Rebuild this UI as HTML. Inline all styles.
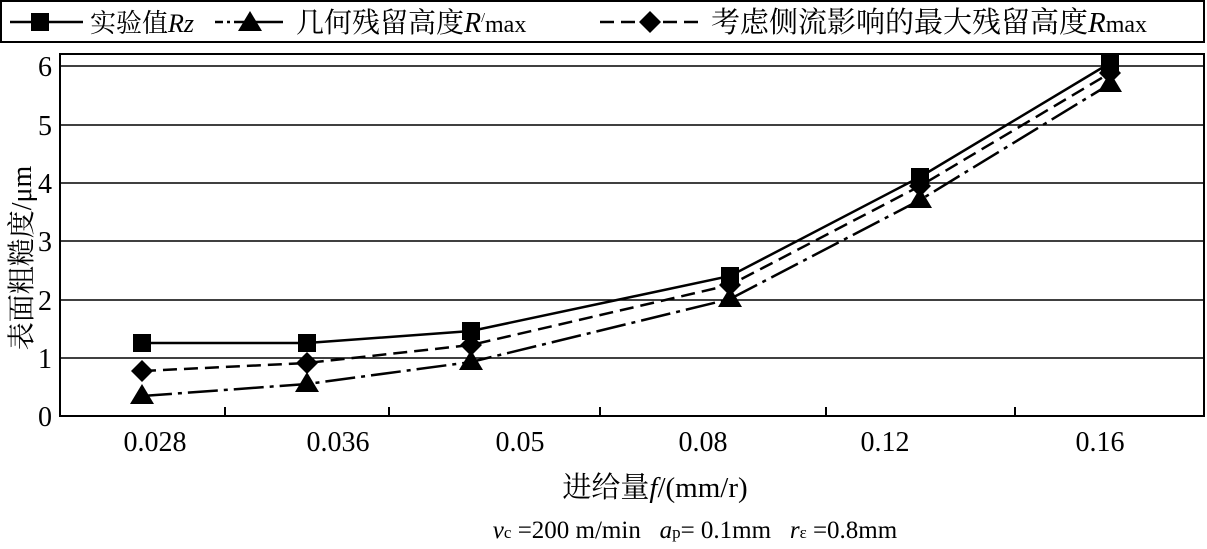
<!DOCTYPE html>
<html><head><meta charset="utf-8"><style>
body{margin:0;background:#fff;}
svg text{font-family:"Liberation Serif","Noto Serif CJK SC",serif;fill:#000;}
</style></head><body>
<svg width="1207" height="544" xmlns="http://www.w3.org/2000/svg">
<rect x="1" y="1" width="1203" height="41" fill="none" stroke="#000" stroke-width="2"/>
<g stroke="#000" stroke-width="2.5">
<line x1="10" y1="22" x2="83" y2="22"/>
<line x1="215" y1="22" x2="232" y2="22" stroke-dasharray="8,4,3,4"/><line x1="234" y1="22" x2="283" y2="22"/>
<line x1="600" y1="22" x2="700" y2="22" stroke-dasharray="14,7"/>
</g>
<rect x="31" y="13" width="18" height="18"/>
<polygon points="250,11 238,31 262,31"/>
<polygon points="650,11 661,22 650,33 639,22"/>
<text x="90" y="32" font-size="26">实验值<tspan font-style="italic">Rz</tspan></text>
<text x="296" y="32" font-size="28">几何残留高度<tspan font-style="italic">R</tspan><tspan font-size="14" dy="-10">/</tspan><tspan font-size="24" dy="10">max</tspan></text>
<text x="711" y="32" font-size="29">考虑侧流影响的最大残留高度<tspan font-style="italic">R</tspan><tspan font-size="24">max</tspan></text>
<g stroke="#000" stroke-width="1.5">
<line x1="60" y1="66" x2="1204" y2="66"/><line x1="60" y1="125" x2="1204" y2="125"/>
<line x1="60" y1="183" x2="1204" y2="183"/><line x1="60" y1="241" x2="1204" y2="241"/>
<line x1="60" y1="300" x2="1204" y2="300"/><line x1="60" y1="358" x2="1204" y2="358"/>
</g>
<rect x="60" y="54" width="1144" height="362" fill="none" stroke="#000" stroke-width="2"/>
<g stroke="#000" stroke-width="2">
<line x1="225" y1="407" x2="225" y2="416"/><line x1="389" y1="407" x2="389" y2="416"/>
<line x1="600" y1="407" x2="600" y2="416"/><line x1="826" y1="407" x2="826" y2="416"/>
<line x1="1015" y1="407" x2="1015" y2="416"/>
</g>
<g font-size="28" text-anchor="end">
<text x="52" y="426">0</text><text x="52" y="368">1</text><text x="52" y="310">2</text>
<text x="52" y="251">3</text><text x="52" y="193">4</text><text x="52" y="135">5</text><text x="52" y="76">6</text>
</g>
<g font-size="28" text-anchor="middle">
<text x="155" y="451">0.028</text><text x="338" y="451">0.036</text><text x="520" y="451">0.05</text>
<text x="703" y="451">0.08</text><text x="885" y="451">0.12</text><text x="1100" y="451">0.16</text>
<text x="655" y="497" font-size="29">进给量<tspan font-style="italic">f</tspan>/(mm/r)</text>
<text x="695" y="538" font-size="25"><tspan font-style="italic">v</tspan><tspan font-size="17">c</tspan> =200 m/min &#160;&#160;<tspan font-style="italic">a</tspan><tspan font-size="17">p</tspan>= 0.1mm &#160;&#160;<tspan font-style="italic">r</tspan><tspan font-size="17">ε</tspan> =0.8mm</text>
</g>
<text transform="translate(31,258) rotate(-90)" font-size="28" text-anchor="middle">表面粗糙度/μm</text>
<g fill="none" stroke="#000" stroke-width="2.5">
<polyline points="142,343 307,343 471,331 730,276 920,177 1110,63"/>
<polyline points="142,371 307,363 471,345 730,285 920,186 1110,73" stroke-dasharray="14,7"/>
<polyline points="142,396 307,384 471,362 730,299 920,200 1110,84" stroke-dasharray="30,6,4,6"/>
</g>
<g>
<rect x="133" y="334" width="18" height="18"/><rect x="298" y="334" width="18" height="18"/>
<rect x="462" y="322" width="18" height="18"/><rect x="721" y="267" width="18" height="18"/>
<rect x="911" y="168" width="18" height="18"/><rect x="1101" y="54" width="18" height="18"/>
<polygon points="142,360 153,371 142,382 131,371"/><polygon points="307,352 318,363 307,374 296,363"/>
<polygon points="471,334 482,345 471,356 460,345"/><polygon points="730,274 741,285 730,296 719,285"/>
<polygon points="920,175 931,186 920,197 909,186"/><polygon points="1110,62 1121,73 1110,84 1099,73"/>
<polygon points="142,384 130,404 154,404"/><polygon points="307,372 295,392 319,392"/>
<polygon points="471,350 459,370 483,370"/><polygon points="730,287 718,307 742,307"/>
<polygon points="920,188 908,208 932,208"/><polygon points="1110,72 1098,92 1122,92"/>
</g>
</svg>
</body></html>
